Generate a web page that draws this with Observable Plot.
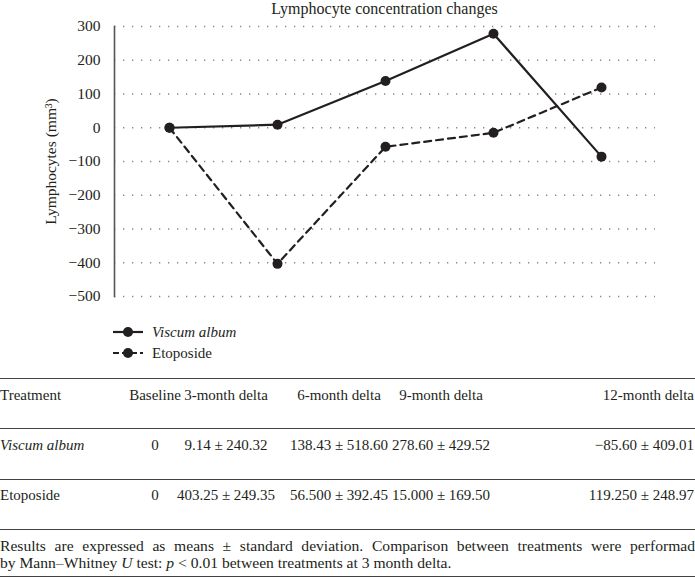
<!DOCTYPE html>
<html><head><meta charset="utf-8">
<script src="https://cdn.jsdelivr.net/npm/d3@7"></script>
<script src="https://cdn.jsdelivr.net/npm/@observablehq/plot@0.6"></script>
<style>
body{margin:0;background:#fff;}
#wrap{position:relative;width:695px;height:578px;font-family:"Liberation Serif","DejaVu Serif",serif;color:#231f20;overflow:hidden;background:#fff}
#title{position:absolute;left:114px;width:541px;top:0px;text-align:center;font-size:16px;line-height:18px;}
#chart{position:absolute;left:0;top:0;}
.leg{position:absolute;left:113px;height:20px;font-size:15px;display:flex;align-items:center;}
.leg svg{margin-right:9px}
.hr{position:absolute;left:0;width:695px;height:0;border-top:1.5px solid #444;}
.cell{position:absolute;font-size:15px;white-space:nowrap;transform:translateY(-50%);line-height:18px}
.foot{position:absolute;left:0;width:695px;font-size:15.6px;line-height:17px;white-space:nowrap;}
#foot1{top:537px;text-align:justify;text-align-last:justify;}
#foot2{top:554px;}
</style></head>
<body><div id="wrap">
<div id="chart"></div>
<div id="title">Lymphocyte concentration changes</div>
<div id="legend"></div>
<div id="table"></div>
<div id="foot1" class="foot">Results are expressed as means ± standard deviation. Comparison between treatments were performad</div>
<div id="foot2" class="foot">by Mann–Whitney <i>U</i>&nbsp;test: <i>p</i> &lt; 0.01 between treatments at 3 month delta.</div>
</div>
<script>
const timepoints = ["Baseline", "3-month delta", "6-month delta", "9-month delta", "12-month delta"];
const seriesNames = ["Viscum album", "Etoposide"];
const viscumValues = [0, 9.14, 138.43, 278.60, -85.60];
const etoposideValues = [0, -403.25, -56.5, -15.0, 119.25];
const yTicks = [300, 200, 100, 0, -100, -200, -300, -400, -500];
const tableHeader = ["Treatment", "Baseline", "3-month delta", "6-month delta", "9-month delta", "12-month delta"];
const viscumRow = ["Viscum album", "0", "9.14 ± 240.32", "138.43 ± 518.60", "278.60 ± 429.52", "−85.60 ± 409.01"];
const etoposideRow = ["Etoposide", "0", "403.25 ± 249.35", "56.500 ± 392.45", "15.000 ± 169.50", "119.250 ± 248.97"];

const data = [
  ...timepoints.map((t, i) => ({t, v: viscumValues[i], s: seriesNames[0]})),
  ...timepoints.map((t, i) => ({t, v: etoposideValues[i], s: seriesNames[1]}))
];
const ink = "#231f20";
const font = '"Liberation Serif","DejaVu Serif",serif';

const chart = Plot.plot({
  width: 695, height: 310,
  marginLeft: 114, marginRight: 40, marginTop: 26, marginBottom: 14,
  style: {fontFamily: font, fontSize: "15px", color: ink, background: "transparent"},
  x: {type: "point", domain: timepoints, padding: 0.5, axis: null},
  y: {domain: [-500, 300], ticks: yTicks, label: null},
  marks: [
    Plot.ruleY(yTicks, {stroke: "#888", strokeWidth: 1.3, strokeDasharray: "1.3,7.7"}),
    Plot.axisY({ticks: yTicks, tickSize: 0, tickPadding: 14, tickFormat: d => d < 0 ? "−" + Math.abs(d) : String(d),
      label: "Lymphocytes (mm³)", labelAnchor: "center", labelArrow: "none", labelOffset: 70, fontSize: 15.5}),
    Plot.frame({anchor: "left", stroke: "#555", strokeWidth: 1.6}),
    Plot.line(data.filter(d => d.s === seriesNames[0]), {x: "t", y: "v", stroke: ink, strokeWidth: 2.2}),
    Plot.line(data.filter(d => d.s === seriesNames[1]), {x: "t", y: "v", stroke: ink, strokeWidth: 2.2, strokeDasharray: "7,5"}),
    Plot.dot(data, {x: "t", y: "v", r: 5, fill: ink, stroke: "none"})
  ]
});
document.getElementById("chart").appendChild(chart);

// legend
const legendEl = document.getElementById("legend");
const legendTops = [322, 343];
seriesNames.forEach((name, i) => {
  const div = document.createElement("div");
  div.className = "leg";
  div.style.top = legendTops[i] + "px";
  const dash = i === 1 ? 'stroke-dasharray="6,3"' : "";
  div.innerHTML = `<svg width="30" height="14"><line x1="0" y1="7" x2="30" y2="7" stroke="${ink}" stroke-width="2.2" ${dash}/><circle cx="15" cy="7" r="5" fill="${ink}"/></svg><span style="${i === 0 ? "font-style:italic" : ""}">${name}</span>`;
  legendEl.appendChild(div);
});

// table
const tableEl = document.getElementById("table");
const lineYs = [379, 429, 480, 530, 577];
lineYs.forEach(y => {
  const d = document.createElement("div");
  d.className = "hr"; d.style.top = (y - 1) + "px";
  tableEl.appendChild(d);
});
const colX = [0, 155, 226, 339, 441, 694];
const rows = [[tableHeader, 395], [viscumRow, 445], [etoposideRow, 495]];
rows.forEach(([row, y], ri) => {
  row.forEach((txt, ci) => {
    const c = document.createElement("div");
    c.className = "cell";
    c.textContent = txt;
    c.style.top = y + "px";
    if (ci === 0) { c.style.left = "0px"; if (ri === 1) c.style.fontStyle = "italic"; }
    else if (ci === 5) { c.style.right = (695 - colX[ci]) + "px"; }
    else { c.style.left = colX[ci] + "px"; c.style.transform = "translate(-50%,-50%)"; }
    tableEl.appendChild(c);
  });
});
</script>
</body></html>
